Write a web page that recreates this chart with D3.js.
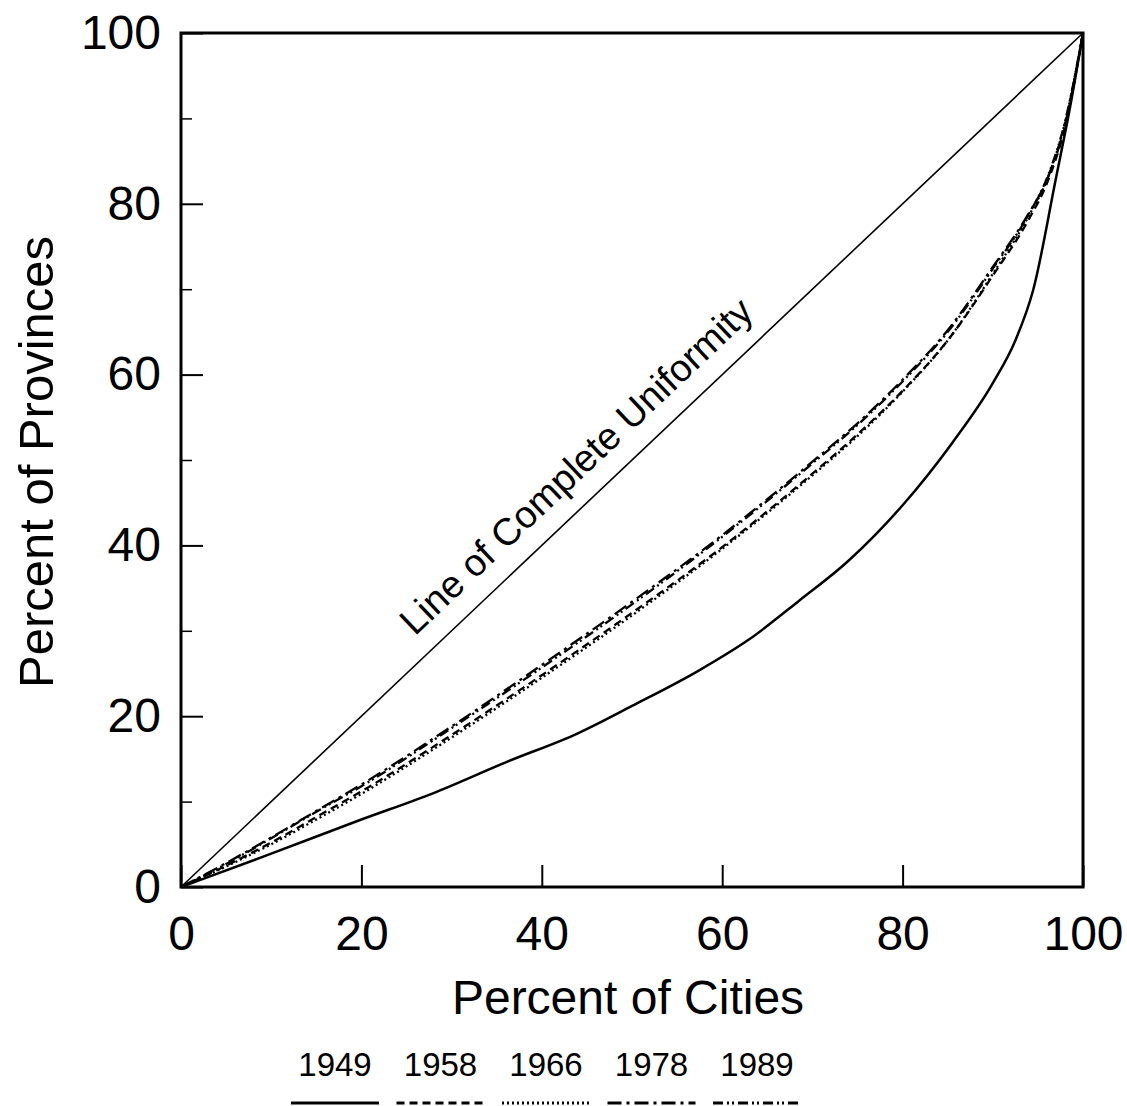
<!DOCTYPE html>
<html>
<head>
<meta charset="utf-8">
<script src="https://cdn.jsdelivr.net/npm/d3@7"></script>
<style>
  body { margin: 0; background: #fff; }
  svg { display: block; }
  text { font-family: "Liberation Sans", Arial, Helvetica, sans-serif; fill: #000; }
</style>
</head>
<body>
<svg id="chart" width="1127" height="1106"></svg>
<script>
// values (percent of cities, percent of provinces)
var years = ['1949', '1958', '1966', '1978', '1989'];
var s1949 = [[0,0],[10,3.9],[20,7.9],[28,11],[36,14.6],[44,18],[50,21.2],[57.5,25.4],[63,29],[68.5,33.5],[74,38.2],[80,44.7],[85.5,52],[90,59],[92.5,64],[94.5,70],[97,83],[98.6,91.5],[100,100]];
var s1958 = [[0,0],[5,2.5],[10,5.2],[15,8.2],[20,11.2],[30,17.8],[40,24.8],[50,32.1],[60,39.8],[70,48.4],[75,53],[80,58.1],[85,64],[90,71.6],[94,78.2],[96,82.4],[98,89],[100,100]];
var s1966 = [[0,0],[5,2.4],[10,5.0],[15,7.9],[20,10.9],[30,17.5],[40,24.5],[50,31.8],[60,39.6],[70,48.2],[75,52.8],[80,58],[85,64],[90,71.8],[94,78.6],[96,82.8],[98,89.5],[100,100]];
var s1978 = [[0,0],[5,2.8],[10,5.8],[15,8.9],[20,12],[30,18.8],[40,26],[50,33.4],[60,41.2],[70,49.8],[75,54.3],[80,59.4],[85,65.2],[90,72.6],[94,78.9],[96,82.8],[98,89.2],[100,100]];
var s1989 = [[0,0],[5,2.7],[10,5.7],[15,8.8],[20,11.8],[30,18.6],[40,25.7],[50,33.1],[60,41],[70,49.6],[75,54.1],[80,59.2],[85,65],[90,72.4],[94,78.8],[96,83],[98,89.6],[100,100]];
var uniformity = [[0,0],[100,100]];
var xMajor = [0, 20, 40, 60, 80, 100];
var yMajor = [0, 20, 40, 60, 80, 100];
var yMinor = [10, 30, 50, 70, 90];

var seriesList = [s1949, s1958, s1966, s1978, s1989];
var dashes = ['none', '8,5', '2,3', '14,5,3,5', '10,4,2,3,2,4'];
var widths = [2.5, 2.3, 2.3, 2.3, 2.3];

var svg = d3.select('#chart');
var plotL = 181, plotR = 1083, plotT = 33, plotB = 887;

var x = d3.scaleLinear().domain([0, 100]).range([plotL, plotR]);
var y = d3.scaleLinear().domain([0, 100]).range([plotB, plotT]);

// axes (ticks point inward)
var yAxis = d3.axisLeft(y).tickValues(yMajor).tickSizeInner(-22).tickSizeOuter(0).tickPadding(20).tickFormat(d3.format('d'));
var gy = svg.append('g').attr('transform', 'translate(' + plotL + ',0)').call(yAxis);
gy.select('.domain').remove();
gy.selectAll('line').attr('stroke', '#000').attr('stroke-width', 2);
gy.selectAll('text').attr('font-size', 48).style('font-family', '"Liberation Sans", Arial, sans-serif');

var yAxisMinor = d3.axisLeft(y).tickValues(yMinor).tickSizeInner(-11).tickSizeOuter(0).tickFormat('');
var gym = svg.append('g').attr('transform', 'translate(' + plotL + ',0)').call(yAxisMinor);
gym.select('.domain').remove();
gym.selectAll('line').attr('stroke', '#000').attr('stroke-width', 1.5);

var xAxis = d3.axisBottom(x).tickValues(xMajor).tickSizeInner(-22).tickSizeOuter(0).tickPadding(29).tickFormat(d3.format('d'));
var gx = svg.append('g').attr('transform', 'translate(0,' + plotB + ')').call(xAxis);
gx.select('.domain').remove();
gx.selectAll('line').attr('stroke', '#000').attr('stroke-width', 2);
gx.selectAll('text').attr('font-size', 48).style('font-family', '"Liberation Sans", Arial, sans-serif');

// frame
svg.append('rect')
    .attr('x', plotL).attr('y', plotT)
    .attr('width', plotR - plotL).attr('height', plotB - plotT)
    .attr('fill', 'none').attr('stroke', '#000').attr('stroke-width', 3);

var line = d3.line().x(function(d) { return x(d[0]); }).y(function(d) { return y(d[1]); });
var curve = d3.line().curve(d3.curveMonotoneX).x(function(d) { return x(d[0]); }).y(function(d) { return y(d[1]); });

// line of complete uniformity
svg.append('path').attr('d', line(uniformity))
    .attr('fill', 'none').attr('stroke', '#000').attr('stroke-width', 1.6);

var ang = Math.atan2(y(0) - y(100), x(100) - x(0)) * 180 / Math.PI;
svg.append('text')
    .attr('transform', 'translate(' + x(46.4) + ',' + y(46.4) + ') rotate(' + (-ang) + ')')
    .attr('text-anchor', 'middle')
    .attr('dy', -21)
    .attr('font-size', 38)
    .text('Line of Complete Uniformity');

// curves
for (var i = 0; i < seriesList.length; i++) {
    svg.append('path').attr('d', curve(seriesList[i]))
        .attr('fill', 'none')
        .attr('stroke', '#000')
        .attr('stroke-width', widths[i])
        .attr('stroke-dasharray', dashes[i]);
}

// axis titles
svg.append('text')
    .attr('x', 628).attr('y', 1014)
    .attr('text-anchor', 'middle').attr('font-size', 48)
    .text('Percent of Cities');

svg.append('text')
    .attr('transform', 'translate(53,' + ((plotT + plotB) / 2 + 2) + ') rotate(-90)')
    .attr('text-anchor', 'middle').attr('font-size', 49)
    .text('Percent of Provinces');

// legend
var legendX = d3.scalePoint().domain(years).range([335, 757]);
for (var j = 0; j < years.length; j++) {
    var cx = legendX(years[j]);
    svg.append('text')
        .attr('x', cx).attr('y', 1076)
        .attr('text-anchor', 'middle').attr('font-size', 33)
        .text(years[j]);
    svg.append('line')
        .attr('x1', cx - 44).attr('x2', cx + 44)
        .attr('y1', 1103).attr('y2', 1103)
        .attr('stroke', '#000').attr('stroke-width', 3)
        .attr('stroke-dasharray', dashes[j]);
}
</script>
</body>
</html>
